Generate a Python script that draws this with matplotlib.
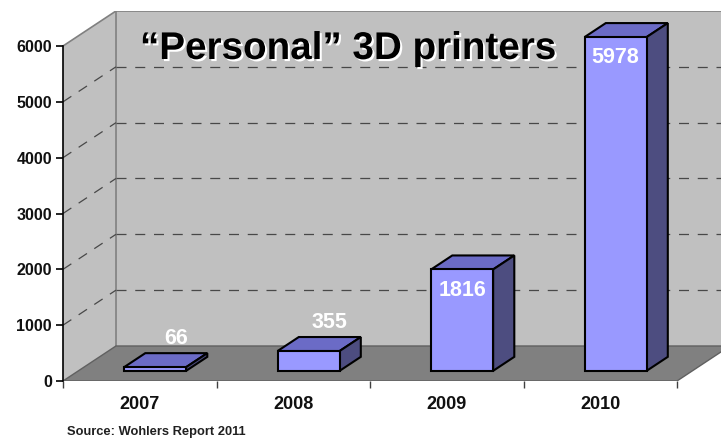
import numpy as np
import matplotlib
matplotlib.use("Agg")
import matplotlib.pyplot as plt
import matplotlib.patheffects as pe
from matplotlib.patches import Polygon

years = ["2007", "2008", "2009", "2010"]
units = [66, 355, 1816, 5978]
yticks = [0, 1000, 2000, 3000, 4000, 5000, 6000]

plt.rcParams['font.family'] = ['Liberation Sans', 'DejaVu Sans']
plt.rcParams['font.weight'] = 'bold'

# oblique "3d" box: depth shift in data units (x = categories, y = units)
DX = 0.345
DY = 627.0
YMAX = 6000
z0, z1 = 0.29, 0.69      # depth span of the bars
w = 0.404                # bar width in category units

wall_c = '#c0c0c0'
floor_c = '#808080'
edge_c = '#808080'
front_c = '#9999ff'
top_c = '#6b6bc6'
side_c = '#4d4d80'

fig = plt.figure(figsize=(7.21, 4.43), dpi=100)
ax = fig.add_axes([63/721, 62/443, 1 - 63/721, (381 - 11)/443])
ax.set_xlim(0, (721 - 63)/153.5)
ax.set_ylim(0, YMAX + DY)
n = len(years)
xr = n + DX + 0.5

# walls
ax.add_patch(Polygon([(DX, DY), (xr, DY), (xr, YMAX + DY), (DX, YMAX + DY)],
                     closed=True, fc=wall_c, ec='none', zorder=0))
ax.add_patch(Polygon([(0, 0), (DX, DY), (DX, YMAX + DY), (0, YMAX)],
                     closed=True, fc=wall_c, ec='none', zorder=0))
ax.plot([0, DX, xr], [YMAX, YMAX + DY, YMAX + DY], color=edge_c, lw=1.2, zorder=1)
ax.plot([DX, DX], [DY, YMAX + DY], color=edge_c, lw=1.2, zorder=1)

# dashed gridlines on the back and side walls
for v in yticks[1:-1]:
    ax.plot([0, DX], [v, v + DY], color='#484848', lw=0.9, ls=(0, (8, 7)), zorder=1)
    ax.plot([DX, xr], [v + DY, v + DY], color='#484848', lw=0.9, ls=(0, (8, 7)), zorder=1)

# floor
ax.add_patch(Polygon([(0, 0), (n, 0), (n + DX, DY), (DX, DY)],
                     closed=True, fc=floor_c, ec='#606060', lw=1, zorder=2))

# bars: front faces through ax.bar, top and side faces as polygons
centers = np.arange(n) + 0.5
ddx, ddy = (z1 - z0)*DX, (z1 - z0)*DY
bars = ax.bar(centers + z0*DX, units, width=w, bottom=z0*DY,
              color=front_c, edgecolor='black', lw=1.5, zorder=5)
for b, v in zip(bars, units):
    xl = b.get_x()
    xrr = xl + b.get_width()
    y0 = b.get_y()
    top = y0 + v
    ax.add_patch(Polygon([(xl, top), (xrr, top), (xrr + ddx, top + ddy), (xl + ddx, top + ddy)],
                         closed=True, fc=top_c, ec='black', lw=1.5, zorder=4))
    ax.add_patch(Polygon([(xrr, y0), (xrr, top), (xrr + ddx, top + ddy), (xrr + ddx, y0 + ddy)],
                         closed=True, fc=side_c, ec='black', lw=1.5, zorder=4))
    if v > 1000:
        ax.annotate(str(v), (xl + w/2, top), xytext=(0, -15), textcoords='offset points',
                    ha='center', va='center', color='white', fontsize=15.5, fontweight='bold', zorder=6)
    else:
        ax.annotate(str(v), (xl + w/2 + ddx, top + ddy), xytext=(0, 10.5), textcoords='offset points',
                    ha='center', va='center', color='white', fontsize=15.5, fontweight='bold', zorder=6)

# axes
for s in ['top', 'right']:
    ax.spines[s].set_visible(False)
ax.spines['left'].set_bounds(0, YMAX)
ax.spines['left'].set_linewidth(1.2)
ax.spines['left'].set_zorder(3)
ax.spines['bottom'].set_visible(False)
ax.set_yticks(yticks)
ax.tick_params(axis='y', length=5, width=1.2, pad=3, labelsize=11.5)
ax.set_xticks(centers)
ax.set_xticklabels(years)
ax.set_xticks(np.arange(n + 1), minor=True)
ax.tick_params(axis='x', which='major', length=0, pad=10.5, labelsize=13)
ax.tick_params(axis='x', which='minor', length=5, width=1, color='#404040')
for lab in ax.get_xticklabels() + ax.get_yticklabels():
    lab.set_fontweight('bold')
    lab.set_color('#111111')

fig.text(140/721, 1 - 59/443, "\u201cPersonal\u201d 3D printers", fontsize=27.8,
         fontweight='bold', color='black', va='baseline', ha='left',
         path_effects=[pe.withSimplePatchShadow(offset=(1.5, -1.5), shadow_rgbFace='white', alpha=1.0)])
fig.text(67/721, 1 - 432/443, "Source: Wohlers Report 2011", fontsize=9.3,
         fontweight='bold', color='#202020', va='center', ha='left')

fig.savefig('out.png', dpi=100)
